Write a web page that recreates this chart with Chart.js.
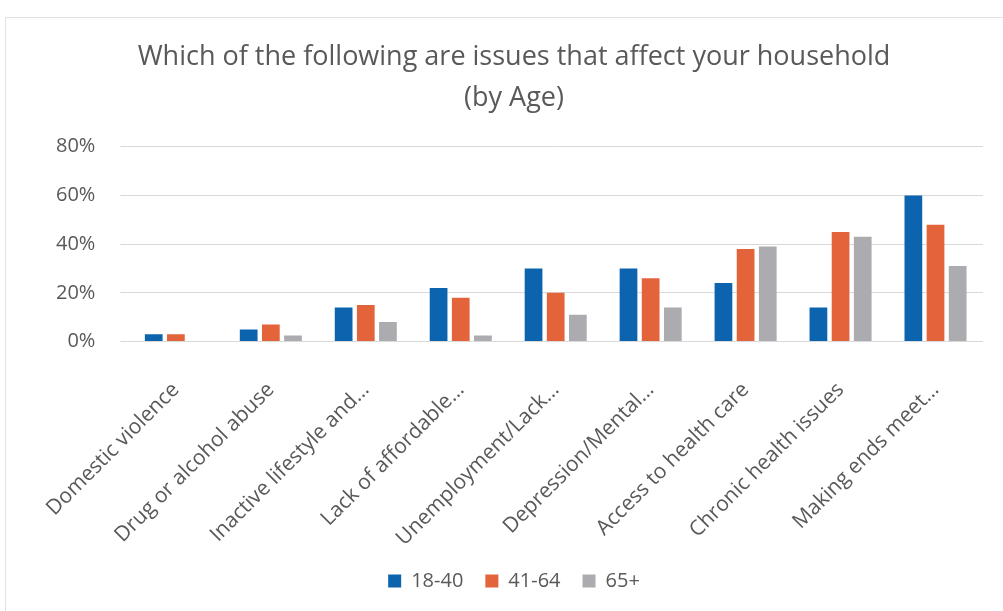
<!DOCTYPE html>
<html>
<head>
<meta charset="utf-8">
<script src="https://cdn.jsdelivr.net/npm/chart.js@4/dist/chart.umd.min.js"></script>
<style>
  html, body { margin: 0; padding: 0; background: #ffffff; }
  #wrap { position: relative; width: 1003px; height: 611px; }
  #frame { position: absolute; left: 5px; top: 17px; right: -2px; bottom: -2px; border: 1px solid #e2e2e2; pointer-events: none; }
  canvas { display: block; }
</style>
</head>
<body>
<div id="wrap">
  <canvas id="chart" width="1003" height="611"></canvas>
  <div id="frame"></div>
</div>
<script>
// Survey categories (long names are cut off with an ellipsis)
const categories = [
  'Domestic violence',
  'Drug or alcohol abuse',
  'Inactive lifestyle and\u2026',
  'Lack of affordable\u2026',
  'Unemployment/Lack\u2026',
  'Depression/Mental\u2026',
  'Access to health care',
  'Chronic health issues',
  'Making ends meet\u2026'
];

// Share of households by age group (percent)
const age18to40 = [3, 5, 14, 22, 30, 30, 24, 14, 60];
const age41to64 = [3, 7, 15, 18, 20, 26, 38, 45, 48];
const age65plus = [0, 2.5, 8, 2.5, 11, 14, 39, 43, 31];

const seriesNames = ['18-40', '41-64', '65+'];
const yTicks = [0, 20, 40, 60, 80];

const textColor = '#595959';
const fontFamily = "'Open Sans', 'Liberation Sans', sans-serif";

new Chart(document.getElementById('chart'), {
  type: 'bar',
  data: {
    labels: categories,
    datasets: [
      { label: seriesNames[0], data: age18to40, backgroundColor: '#0b64ad' },
      { label: seriesNames[1], data: age41to64, backgroundColor: '#e3643b' },
      { label: seriesNames[2], data: age65plus, backgroundColor: '#acacb0' }
    ]
  },
  options: {
    responsive: false,
    animation: false,
    layout: { padding: { left: 45, right: 20, top: 12, bottom: 10 } },
    datasets: { bar: { categoryPercentage: 0.7, barPercentage: 0.8 } },
    plugins: {
      title: {
        display: true,
        text: ['Which of the following are issues that affect your household', '(by Age)'],
        color: textColor,
        font: { family: fontFamily, size: 27, weight: 'normal', lineHeight: 1.55 },
        padding: { top: 24, bottom: 27 }
      },
      legend: {
        position: 'bottom',
        labels: {
          color: textColor,
          font: { family: fontFamily, size: 20 },
          boxWidth: 13,
          boxHeight: 13,
          padding: 22
        }
      },
      tooltip: { enabled: false }
    },
    scales: {
      x: {
        grid: { display: false },
        border: { display: false },
        // the rotated labels need less room than the library reserves
        afterFit: (axis) => { axis.height -= 30; },
        ticks: {
          color: textColor,
          font: { family: fontFamily, size: 21 },
          minRotation: 45,
          maxRotation: 45,
          autoSkip: false,
          padding: 28
        }
      },
      y: {
        min: 0,
        max: 80,
        afterBuildTicks: (axis) => { axis.ticks = yTicks.map(v => ({ value: v })); },
        // labels may spill into the left padding
        afterFit: (axis) => { axis.width -= 14; },
        grid: { color: '#d9d9d9', lineWidth: 1 },
        border: { display: false },
        ticks: {
          color: textColor,
          font: { family: fontFamily, size: 20 },
          padding: 25,
          callback: (v) => v + '%'
        }
      }
    }
  }
});
</script>
</body>
</html>
